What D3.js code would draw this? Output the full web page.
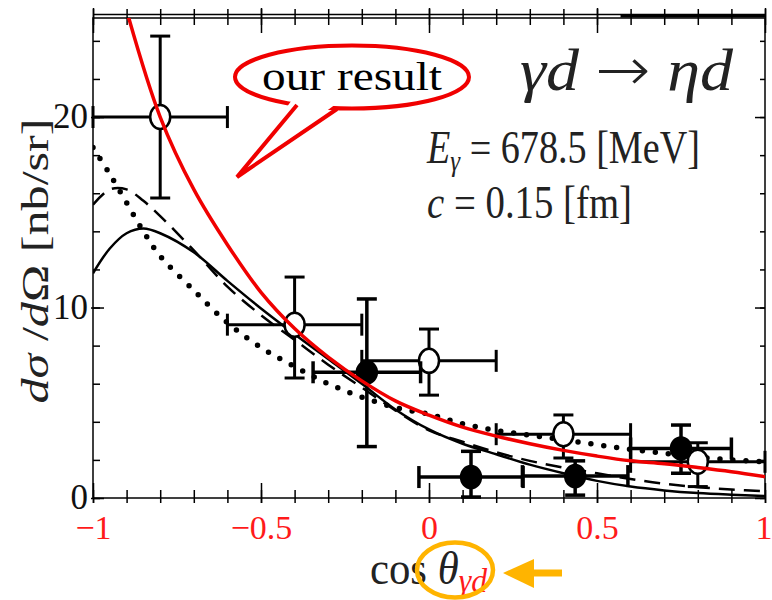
<!DOCTYPE html>
<html>
<head>
<meta charset="utf-8">
<script src="https://cdn.jsdelivr.net/npm/d3@7"></script>
<style>
  body { margin: 0; background: #fff; }
  svg text { font-family: "Liberation Serif", "DejaVu Serif", serif; }
</style>
</head>
<body>
<svg id="chart" width="772" height="600"></svg>
<script>
// theory curves
const redX = [-0.9, -0.8, -0.7, -0.6, -0.5, -0.4, -0.3, -0.2, -0.1, 0, 0.1, 0.2, 0.3, 0.4, 0.5, 0.6, 0.7, 0.8, 0.9, 1.0];
const redY = [25.6, 20.0, 16.2, 13.3, 10.8, 8.9, 7.4, 6.15, 5.1, 4.35, 3.72, 3.25, 2.85, 2.5, 2.2, 1.95, 1.8, 1.6, 1.38, 1.12];

const theoryX = [-1, -0.95, -0.9, -0.85, -0.8, -0.7, -0.6, -0.5, -0.4, -0.3, -0.2, -0.1, 0, 0.1, 0.2, 0.3, 0.4, 0.5, 0.6, 0.7, 0.8, 0.9, 1.0];
const solidY  = [11.8, 13.1, 13.9, 14.15, 13.9, 12.9, 11.4, 9.95, 8.6, 7.3, 6.0, 4.65, 3.6, 2.85, 2.3, 1.75, 1.3, 0.9, 0.6, 0.4, 0.26, 0.17, 0.1];
const dashedY = [15.4, 16.2, 16.2, 15.6, 14.8, 13.0, 11.1, 9.6, 8.3, 7.0, 5.8, 4.6, 3.55, 2.95, 2.4, 1.95, 1.6, 1.3, 1.0, 0.75, 0.57, 0.45, 0.35];
const dottedY = [18.4, 17.0, 15.5, 14.0, 12.7, 10.9, 9.2, 7.9, 6.9, 6.0, 5.3, 4.75, 4.4, 3.9, 3.55, 3.3, 3.05, 2.8, 2.55, 2.35, 2.15, 2.0, 1.9];

// data points (open and filled markers)
const openX  = [-0.8, -0.4, 0.0, 0.4, 0.8];
const openY  = [20.0, 9.1, 7.2, 3.35, 1.9];
const openLo = [15.75, 6.3, 5.4, 2.1, 0.6];
const openHi = [24.25, 11.6, 8.87, 4.36, 2.9];
const openDx = [0.2, 0.2, 0.2, 0.2, 0.2];

const filledX  = [-0.185, 0.125, 0.435, 0.75];
const filledY  = [6.6, 1.1, 1.15, 2.6];
const filledLo = [2.7, 0.05, 0.15, 1.3];
const filledHi = [10.45, 2.45, 1.95, 3.83];
const filledDx = [0.16, 0.155, 0.157, 0.15];

// ticks
const xMajor = [-1, -0.5, 0, 0.5, 1];
const xMinor = d3.range(-10, 11).map(d => d / 10);
const yMajor = [0, 10, 20];
const yMinor = d3.range(0, 26, 2);

const svg = d3.select("#chart");
const plotLeft = 93, plotRight = 765, plotTop = 18, plotBottom = 498;

const x = d3.scaleLinear().domain([-1, 1]).range([plotLeft, plotRight]);
const y = d3.scaleLinear().domain([0, 25.2]).range([plotBottom, plotTop]);

svg.append("defs").append("clipPath").attr("id", "plot")
  .append("rect").attr("x", plotLeft).attr("y", plotTop).attr("width", plotRight - plotLeft).attr("height", plotBottom - plotTop);

// frame
svg.append("rect").attr("x", plotLeft).attr("y", plotTop).attr("width", plotRight - plotLeft).attr("height", plotBottom - plotTop)
  .attr("fill", "none").attr("stroke", "#000").attr("stroke-width", 1.5);
svg.append("line").attr("x1", plotLeft).attr("x2", plotRight).attr("y1", plotTop - 3.5).attr("y2", plotTop - 3.5)
  .attr("stroke", "#000").attr("stroke-width", 1.3);
svg.append("line").attr("x1", x(0.57)).attr("x2", plotRight).attr("y1", plotTop - 2).attr("y2", plotTop - 2)
  .attr("stroke", "#000").attr("stroke-width", 3);

function styleTicks(sel, a, b) {
  sel.select(".domain").remove();
  sel.selectAll(".tick line").attr("stroke", "#000").attr("stroke-width", 1.5);
  if (a !== undefined) sel.selectAll(".tick line").attr("y1", a).attr("y2", b);
}

// bottom axis: minor + major, ticks crossing the line
const bMinor = svg.append("g").attr("transform", `translate(0,${plotBottom})`)
  .call(d3.axisTop(x).tickValues(xMinor).tickFormat("").tickSizeOuter(0));
styleTicks(bMinor, -8, 5);
const bMajor = svg.append("g").attr("transform", `translate(0,${plotBottom})`)
  .call(d3.axisBottom(x).tickValues(xMajor).tickFormat(d3.format("")).tickSizeOuter(0));
styleTicks(bMajor, -15, 5);
bMajor.selectAll(".tick text").attr("fill", "#ff1a1a").attr("font-size", 34)
  .attr("font-family", "Liberation Serif, serif").attr("y", 41).attr("dy", 0);
bMajor.selectAll(".tick text").filter(d => d === 1).attr("text-anchor", "end").attr("x", 7);

// top axis
const tMinor = svg.append("g").attr("transform", `translate(0,${plotTop})`)
  .call(d3.axisBottom(x).tickValues(xMinor).tickFormat("").tickSizeOuter(0));
styleTicks(tMinor, -9, 7);
const tMajor = svg.append("g").attr("transform", `translate(0,${plotTop})`)
  .call(d3.axisBottom(x).tickValues(xMajor).tickFormat("").tickSizeOuter(0));
styleTicks(tMajor, -10, 15);

// left axis
const lMinor = svg.append("g").attr("transform", `translate(${plotLeft},0)`)
  .call(d3.axisRight(y).tickValues(yMinor).tickFormat("").tickSize(7).tickSizeOuter(0));
styleTicks(lMinor);
const lMajor = svg.append("g").attr("transform", `translate(${plotLeft},0)`)
  .call(d3.axisLeft(y).tickValues(yMajor).tickFormat(d3.format("d")).tickSizeOuter(0).tickSizeInner(0));
lMajor.select(".domain").remove();
lMajor.selectAll(".tick line").attr("x1", -2).attr("x2", 11).attr("stroke", "#000").attr("stroke-width", 1.5);
lMajor.selectAll(".tick text").attr("fill", "#111").attr("font-size", 35)
  .attr("font-family", "Liberation Serif, serif").attr("x", -5).attr("dy", "0.3em");

// right axis
const rMinor = svg.append("g").attr("transform", `translate(${plotRight},0)`)
  .call(d3.axisLeft(y).tickValues(yMinor).tickFormat("").tickSize(5).tickSizeOuter(0));
styleTicks(rMinor);
const rMajor = svg.append("g").attr("transform", `translate(${plotRight},0)`)
  .call(d3.axisLeft(y).tickValues(yMajor).tickFormat("").tickSize(10).tickSizeOuter(0));
styleTicks(rMajor);

// curves
const line = d3.line().x(d => x(d[0])).y(d => y(d[1])).curve(d3.curveCatmullRom.alpha(0.5));
const curves = svg.append("g").attr("clip-path", "url(#plot)");

curves.append("path").datum(theoryX.map((v, i) => [v, dottedY[i]])).attr("d", line)
  .attr("fill", "none").attr("stroke", "#000").attr("stroke-width", 5.5)
  .attr("stroke-linecap", "round").attr("stroke-dasharray", "0 13");
curves.append("path").datum(theoryX.map((v, i) => [v, dashedY[i]])).attr("d", line)
  .attr("fill", "none").attr("stroke", "#000").attr("stroke-width", 2.5).attr("stroke-dasharray", "16 9");
curves.append("path").datum(theoryX.map((v, i) => [v, solidY[i]])).attr("d", line)
  .attr("fill", "none").attr("stroke", "#000").attr("stroke-width", 2.5);

// error bars
function drawPoints(xs, ys, lo, hi, dx, filled) {
  const g = svg.append("g").attr("stroke", "#000").attr("stroke-width", filled ? 3.5 : 3);
  const pts = xs.map((v, i) => ({ x: v, y: ys[i], lo: lo[i], hi: hi[i], dx: dx[i] }));
  const cap = 10;
  pts.forEach(p => {
    g.append("line").attr("x1", x(p.x - p.dx)).attr("x2", x(p.x + p.dx)).attr("y1", y(p.y)).attr("y2", y(p.y));
    g.append("line").attr("x1", x(p.x)).attr("x2", x(p.x)).attr("y1", y(p.lo)).attr("y2", y(p.hi));
    [p.x - p.dx, p.x + p.dx].forEach(e => g.append("line")
      .attr("x1", x(e)).attr("x2", x(e)).attr("y1", y(p.y) - 11).attr("y2", y(p.y) + 11));
    [p.lo, p.hi].forEach(e => g.append("line")
      .attr("x1", x(p.x) - cap).attr("x2", x(p.x) + cap).attr("y1", y(e)).attr("y2", y(e)));
  });
  g.selectAll("ellipse").data(pts).enter().append("ellipse")
    .attr("cx", d => x(d.x)).attr("cy", d => y(d.y))
    .attr("rx", 10).attr("ry", filled ? 11 : 12)
    .attr("fill", filled ? "#000" : "#fff").attr("stroke-width", 2.5);
}
drawPoints(openX, openY, openLo, openHi, openDx, false);
drawPoints(filledX, filledY, filledLo, filledHi, filledDx, true);

// red curve on top
const redLayer = svg.append("g").attr("clip-path", "url(#plot)");
redLayer.append("path").datum(redX.map((v, i) => [v, redY[i]])).attr("d", line)
  .attr("fill", "none").attr("stroke", "#f00000").attr("stroke-width", 3.5);

// speech bubble
svg.append("ellipse").attr("cx", 352).attr("cy", 77).attr("rx", 117).attr("ry", 31.5)
  .attr("fill", "#fff").attr("stroke", "#f00000").attr("stroke-width", 4);
svg.append("path").attr("d", "M294,97 L237,177 L340,101 Z").attr("fill", "#fff");
svg.append("path").attr("d", "M297,105 L237,177 L337,109").attr("fill", "none")
  .attr("stroke", "#f00000").attr("stroke-width", 4).attr("stroke-linejoin", "miter");
svg.append("text").attr("x", 352).attr("y", 90).attr("text-anchor", "middle")
  .attr("font-size", 40).attr("fill", "#000").attr("textLength", 180).attr("lengthAdjust", "spacingAndGlyphs")
  .text("our result");

// reaction and parameters
const t1 = svg.append("text").attr("x", 520).attr("y", 90).attr("font-size", 60).attr("fill", "#222")
  .attr("textLength", 213).attr("lengthAdjust", "spacingAndGlyphs");
t1.append("tspan").attr("font-style", "italic").text("γd ");
t1.append("tspan").attr("font-family", "DejaVu Sans, sans-serif").attr("font-weight", 300).text("→");
t1.append("tspan").attr("font-style", "italic").text(" ηd");

const t2 = svg.append("text").attr("x", 427).attr("y", 163).attr("font-size", 46).attr("fill", "#222")
  .attr("textLength", 273).attr("lengthAdjust", "spacingAndGlyphs");
t2.append("tspan").attr("font-style", "italic").text("E");
t2.append("tspan").attr("font-style", "italic").attr("font-size", 30).attr("dy", 8).text("γ");
t2.append("tspan").attr("dy", -8).text(" = 678.5 [MeV]");

const t3 = svg.append("text").attr("x", 427).attr("y", 218).attr("font-size", 46).attr("fill", "#222")
  .attr("textLength", 205).attr("lengthAdjust", "spacingAndGlyphs");
t3.append("tspan").attr("font-style", "italic").text("c");
t3.append("tspan").text(" = 0.15 [fm]");

// y title
const yt = svg.append("text").attr("transform", "translate(48,261) rotate(-90)").attr("text-anchor", "middle")
  .attr("font-size", 38).attr("fill", "#222").attr("textLength", 285).attr("lengthAdjust", "spacingAndGlyphs");
yt.append("tspan").attr("font-style", "italic").text("dσ");
yt.append("tspan").text(" /");
yt.append("tspan").attr("font-style", "italic").text("d");
yt.append("tspan").text("Ω [nb/sr]");

// x title
const xt = svg.append("text").attr("x", 370).attr("y", 584).attr("font-size", 46).attr("fill", "#222")
  .attr("textLength", 117).attr("lengthAdjust", "spacingAndGlyphs");
xt.append("tspan").text("cos ");
xt.append("tspan").attr("font-style", "italic").text("θ");
xt.append("tspan").attr("font-style", "italic").attr("font-size", 34).attr("dy", 8).attr("fill", "#ff1a1a").text("γd");

// orange highlight + arrow
svg.append("ellipse").attr("cx", 455).attr("cy", 570).attr("rx", 38).attr("ry", 27.5)
  .attr("fill", "none").attr("stroke", "#ffb400").attr("stroke-width", 4.5);
svg.append("line").attr("x1", 530).attr("x2", 562).attr("y1", 573).attr("y2", 573)
  .attr("stroke", "#ffb400").attr("stroke-width", 7);
svg.append("path").attr("d", "M503,573 L534,559 L534,588 Z").attr("fill", "#ffb400");
</script>
</body>
</html>
